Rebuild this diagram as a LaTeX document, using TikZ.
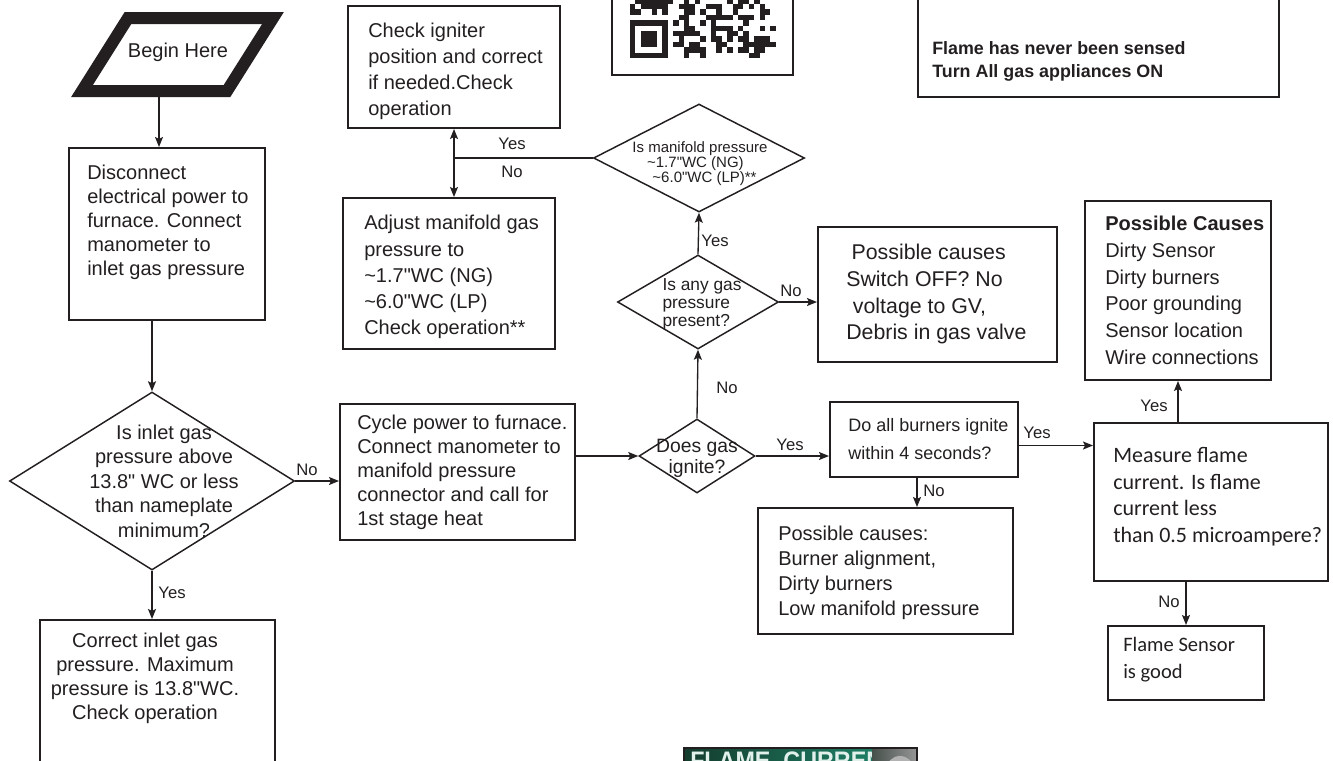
\documentclass[tikz,border=0pt]{standalone}
\usepackage{fontspec}
\setmainfont{Liberation Sans}[Ligatures=TeXOff]
\newfontfamily\calib{Carlito}[Ligatures=TeXOff]
\usetikzlibrary{shapes.geometric,arrows.meta,calc,fit}
\definecolor{ink}{RGB}{35,31,32}
\begin{document}
\begin{tikzpicture}[x=0.75pt,y=-0.75pt,
  box/.style={draw=ink, line width=1.5pt, inner sep=0pt},
  dia/.style={draw=ink, line width=1.1pt, diamond, inner sep=0pt},
  con/.style={draw=ink, line width=1pt},
  arr/.style={con, -{Stealth[length=7.5pt,width=6pt,inset=1.5pt]}},
  txt/.style={inner sep=0pt, anchor=north west, align=left, text=ink},
  ctxt/.style={inner sep=0pt, align=center, text=ink},
  lab/.style={inner sep=0pt, text=ink, font=\fontsize{12.5}{14}\selectfont},
]
\useasboundingbox (0,0) rectangle (1333,760);
\clip (0,0) rectangle (1333,760);

% ---------- Begin Here ----------
\draw[ink, line width=9pt, line join=miter] (128,18) -- (273,18) -- (227,91) -- (82,91) -- cycle;
\node[ctxt, font=\fontsize{15}{18}\selectfont] (begin) at (178,52) {Begin Here};
\coordinate (beginB) at (159,97);

% ---------- boxes ----------
\node[box, fit={(69,148) (265,320)}] (dis) {};
\node[txt, font=\fontsize{15}{18}\selectfont] (disT) at (87,165) {Disconnect\\electrical power to\\furnace. Connect\\manometer to\\inlet gas pressure};

\node[box, fit={(40,620) (275,790)}] (cor) {};
\node[ctxt, anchor=north, font=\fontsize{15}{18}\selectfont] (corT) at (145,633) {Correct inlet gas\\pressure. Maximum\\pressure is 13.8"WC.\\Check operation};

\node[box, fit={(340,404) (575,540)}] (cyc) {};
\node[txt, font=\fontsize{15}{18}\selectfont] (cycT) at (357,415) {Cycle power to furnace.\\Connect manometer to\\manifold pressure\\connector and call for\\1st stage heat};

\node[box, fit={(348,6) (560,128)}] (chk) {};
\node[txt, font=\fontsize{15}{19.5}\selectfont] (chkT) at (368,23) {Check igniter\\position and correct\\if needed.Check\\operation};

\node[box, fit={(343,198) (555,349)}] (adj) {};
\node[txt, font=\fontsize{15}{19.7}\selectfont] (adjT) at (364,215) {Adjust manifold gas\\pressure to\\\textasciitilde1.7"WC (NG)\\\textasciitilde6.0"WC (LP)\\Check operation**};

\node[box, fit={(818,227) (1057,362)}] (cz1) {};
\node[txt, font=\fontsize{16}{20}\selectfont] (cz1T) at (846,244) {\hspace*{4pt}Possible causes\\Switch OFF? No\\\hspace*{5pt}voltage to GV,\\Debris in gas valve};

\node[box, fit={(830,402) (1018,477)}] (brn) {};
\node[txt, font=\fontsize{13.5}{21}\selectfont] (brnT) at (848,418) {Do all burners ignite\\within 4 seconds?};

\node[box, fit={(758,508) (1013,634)}] (cz2) {};
\node[txt, font=\fontsize{15}{18.75}\selectfont] (cz2T) at (778,526) {Possible causes:\\Burner alignment,\\Dirty burners\\Low manifold pressure};

\node[box, fit={(1085,201) (1271,380)}] (pc) {};
\node[txt, font=\fontsize{15}{20}\selectfont] (pcT) at (1105,216) {\textbf{Possible Causes}\\Dirty Sensor\\Dirty burners\\Poor grounding\\Sensor location\\Wire connections};

\node[box, fit={(1094,423) (1328,581)}] (mea) {};
\node[txt, font=\calib\fontsize{16.5}{20}\selectfont] (meaT) at (1113,447) {Measure flame\\current. Is flame\\current less\\than 0.5 microampere?};

\node[box, fit={(1108,626) (1264,700)}] (fs) {};
\node[txt, font=\calib\fontsize{15.4}{20}\selectfont] (fsT) at (1123,637) {Flame Sensor\\is good};

\node[box, fit={(918,-20) (1279,97)}] (tr) {};
\node[txt, font=\bfseries\fontsize{13.4}{17.25}\selectfont] (trT) at (932,41.5) {Flame has never been sensed\\Turn All gas appliances ON};

% ---------- diamonds ----------
\node[dia, minimum width=285*0.75pt, minimum height=178*0.75pt] (inl) at (152,481) {};
\node[ctxt, font=\fontsize{15}{18.4}\selectfont] (inlT) at (164,481) {Is inlet gas\\pressure above\\13.8" WC or less\\than nameplate\\minimum?};

\node[dia, minimum width=116*0.75pt, minimum height=74*0.75pt] (ign) at (697,456) {};
\node[ctxt, font=\fontsize{14.5}{15.75}\selectfont] (ignT) at (697,458) {Does gas\\ignite?};

\node[dia, minimum width=161*0.75pt, minimum height=94*0.75pt] (any) at (698,302) {};
\node[inner sep=0pt, align=left, text=ink, font=\fontsize{13}{13.5}\selectfont] (anyT) at (702,304) {Is any gas\\pressure\\present?};

\node[dia, minimum width=211*0.75pt, minimum height=108*0.75pt] (man) at (699,158) {};
\node[inner sep=0pt, align=left, text=ink, font=\fontsize{11.25}{11.25}\selectfont] (manT) at (700,164) {Is manifold pressure\\\hspace*{11pt}\textasciitilde1.7"WC (NG)\\\hspace*{15pt}\textasciitilde6.0"WC (LP)**};

% ---------- connectors ----------
\draw[arr] (beginB) -- (beginB |- dis.north);
\draw[arr] (inl.north |- dis.south) -- (inl.north);
\draw[arr] (inl.south) -- (inl.south |- cor.north);
\node[lab] (l1) at (172,593) {Yes};
\draw[arr] (inl.east) -- (inl.east -| cyc.west);
\node[lab] (l2) at (307,470) {No};
\draw[arr] (cyc.east |- ign.west) -- (ign.west);
\draw[arr] (ign.east) -- (ign.east -| brn.west);
\node[lab] (l3) at (790,445) {Yes};
\draw[arr] (ign.north) -- (any.south);
\node[lab] (l4) at (727,388) {No};
\draw[arr] (any.east) -- (any.east -| cz1.west);
\node[lab] (l5) at (791,291) {No};
\draw[arr] (any.north) -- (man.south);
\node[lab] (l6) at (715,241) {Yes};
\coordinate (jn) at (chk.south |- man.west);
\draw[con] (man.west) -- (jn);
\draw[arr] (jn) -- (chk.south);
\draw[arr] (jn) -- (jn |- adj.north);
\node[lab] (l7) at (512,144) {Yes};
\node[lab] (l8) at (512,172) {No};
\coordinate (bs) at ($(brn.south)+(-7,0)$);
\draw[arr] (bs) -- (bs |- cz2.north);
\node[lab] (l9) at (934,491) {No};
\coordinate (be) at ($(brn.east)+(0,6)$);
\draw[arr] (be) -- (be -| mea.west);
\node[lab] (l10) at (1037,433) {Yes};
\draw[arr] (pc.south |- mea.north) -- (pc.south);
\node[lab] (l11) at (1154,406) {Yes};
\draw[arr] (fs.north |- mea.south) -- (fs.north);
\node[lab] (l12) at (1169,602) {No};

% ---------- QR code ----------
\draw[ink, line width=1.5pt] (612,-10) rectangle (793,75);
\pgfmathsetseed{12}
\foreach \i in {0,...,26}{
  \foreach \j in {0,...,11}{
    \pgfmathrandominteger{\qr}{0}{1}
    \pgfmathtruncatemacro\qsk{and(\i<8,\j<8)}
    \ifnum\qsk=0 \ifnum\qr=1
      \fill[ink] (630+\i*5.4,58-\j*5.4) rectangle ++(5.4,-5.4);
    \fi\fi
  }
}
\fill[ink] (630,58) rectangle (667.8,20.2);
\fill[white] (635.4,52.6) rectangle (662.4,25.6);
\fill[ink] (640.8,47.2) rectangle (657,31);

% ---------- flame current picture ----------
\shade[left color={rgb,255:red,20;green,60;blue,45}, right color={rgb,255:red,30;green,125;blue,100}] (684,748) rectangle (872,790);
\node[anchor=north west, inner sep=0pt, text={rgb,255:red,225;green,240;blue,235}, font=\bfseries\fontsize{19}{19}\selectfont, xscale=0.92] (fcT) at (690,752) {FLAME\ \ CURRENT};
\shade[left color={rgb,255:red,70;green,80;blue,75}, right color={rgb,255:red,150;green,150;blue,150}] (872,748) rectangle (917,790);
\fill[gray!60] (900,770) circle (14);
\draw[ink, line width=1pt] (684,748) rectangle (917,790);
\end{tikzpicture}
\end{document}
